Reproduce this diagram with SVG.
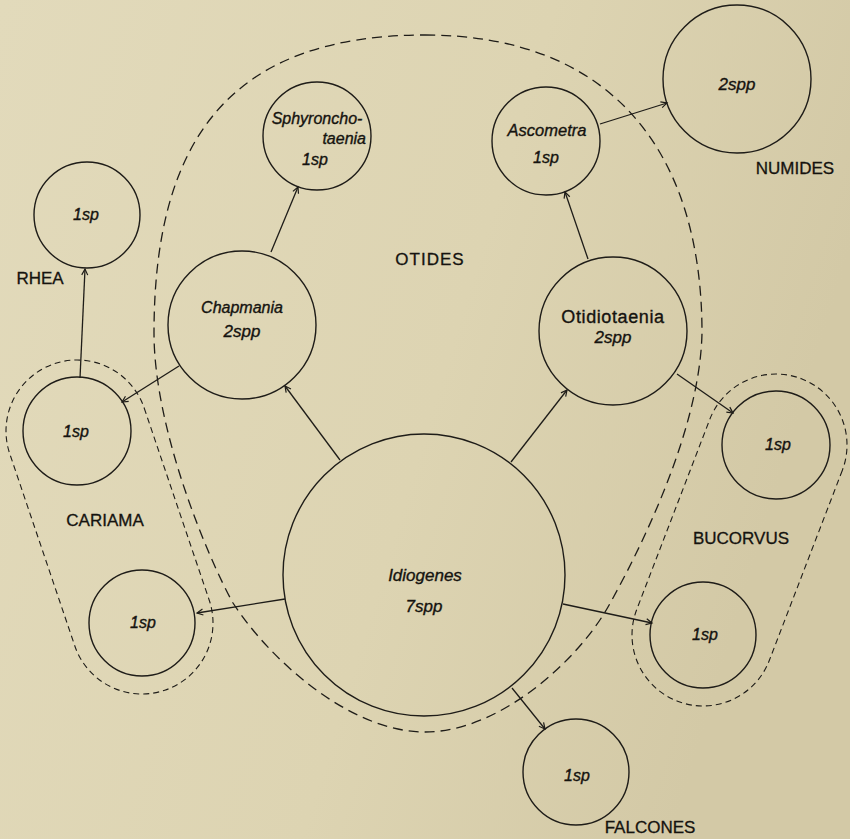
<svg xmlns="http://www.w3.org/2000/svg" width="850" height="839" viewBox="0 0 850 839">
<defs>
<linearGradient id="bg" x1="0" y1="0" x2="1" y2="0.3">
<stop offset="0" stop-color="#e2dabb"/>
<stop offset="0.6" stop-color="#ddd4b2"/>
<stop offset="1" stop-color="#d3c9a6"/>
</linearGradient>
<marker id="arr" viewBox="-8 -5 10 10" refX="0" refY="0" markerWidth="10" markerHeight="10" markerUnits="userSpaceOnUse" orient="auto">
<path d="M-6,-3 L0,0 L-6,3" fill="none" stroke="#1e1c18" stroke-width="1.2"/>
</marker>
</defs>
<style>
.node{fill:none;stroke:#1e1c18;stroke-width:1.4}
.edge{stroke:#1e1c18;stroke-width:1.3;fill:none;marker-end:url(#arr)}
.big{fill:none;stroke:#1e1c18;stroke-width:1.3;stroke-dasharray:10 6}
.small{fill:none;stroke:#1e1c18;stroke-width:1.1;stroke-dasharray:6 4}
.sp{font-family:"Liberation Sans",Arial,sans-serif;font-style:italic;font-size:16px;fill:#15130f;stroke:#15130f;stroke-width:0.35px;text-anchor:middle}
.sp17{font-size:17px}
.up{font-style:normal;font-size:18px;letter-spacing:0.6px}
.end{text-anchor:end}
.lab{font-family:"Liberation Sans",Arial,sans-serif;font-size:17px;fill:#15130f;stroke:#15130f;stroke-width:0.3px;text-anchor:middle}
</style>
<rect x="0" y="0" width="850" height="839" fill="url(#bg)"/>

<g id="group-otides">
<path class="big" d="M425,35 C610,35 702,150 702,333 C700,430 640,550 608,607 C578,660 500,732 425,732 C350,732 270,660 233,603 C208,558 154,430 154,333 C154,140 230,35 425,35 Z"/>
<text class="lab" x="430" y="265" style="letter-spacing:1px">OTIDES</text>
</g>
<g id="group-cariama">
<path class="small" d="M144.25,408.23 L209.25,600.23 A71,71 0 0 1 74.75,645.77 L9.75,453.77 A71,71 0 0 1 144.25,408.23 Z"/>
<text class="lab" x="105" y="526">CARIAMA</text>
</g>
<g id="group-bucorvus">
<path class="small" d="M842.29,470.47 L769.29,660.47 A71,71 0 0 1 636.71,609.53 L709.71,419.53 A71,71 0 0 1 842.29,470.47 Z"/>
<text class="lab" x="741" y="544">BUCORVUS</text>
</g>
<text class="lab" x="40" y="284" id="label-rhea">RHEA</text>
<text class="lab" x="795" y="174" id="label-numides">NUMIDES</text>
<text class="lab" x="650" y="833" id="label-falcones">FALCONES</text>

<g id="connectors">
<line class="edge" x1="340" y1="460" x2="285" y2="386"/>
<line class="edge" x1="511" y1="462" x2="567" y2="390"/>
<line class="edge" x1="271" y1="252" x2="298" y2="187"/>
<line class="edge" x1="588" y1="259" x2="565" y2="192"/>
<line class="edge" x1="600" y1="124" x2="667" y2="103"/>
<line class="edge" x1="80" y1="378" x2="85" y2="269"/>
<line class="edge" x1="179" y1="366" x2="122" y2="402"/>
<line class="edge" x1="677" y1="374" x2="733" y2="413"/>
<line class="edge" x1="285" y1="599" x2="197" y2="613"/>
<line class="edge" x1="563" y1="604" x2="652" y2="623"/>
<line class="edge" x1="512" y1="688" x2="545" y2="729"/>
</g>

<g id="idiogenes">
<circle class="node" cx="424" cy="575" r="141"/>
<text class="sp sp17" x="425" y="581">Idiogenes</text>
<text class="sp sp17" x="424" y="612">7spp</text>
</g>
<g id="chapmania">
<circle class="node" cx="242" cy="325" r="74"/>
<text class="sp" x="242" y="313">Chapmania</text>
<text class="sp sp17" x="242" y="337">2spp</text>
</g>
<g id="otidiotaenia">
<circle class="node" cx="613" cy="331" r="74"/>
<text class="sp up" x="613" y="323">Otidiotaenia</text>
<text class="sp sp17" x="613" y="343">2spp</text>
</g>
<g id="sphyronchotaenia">
<circle class="node" cx="317" cy="136" r="54"/>
<text class="sp" x="317" y="124">Sphyroncho-</text>
<text class="sp end" x="366" y="144">taenia</text>
<text class="sp" x="315" y="165">1sp</text>
</g>
<g id="ascometra">
<circle class="node" cx="546" cy="141" r="54"/>
<text class="sp" x="547" y="136" style="font-size:16.5px">Ascometra</text>
<text class="sp" x="546" y="163">1sp</text>
</g>
<g id="numides">
<circle class="node" cx="737" cy="79" r="74"/>
<text class="sp sp17" x="737" y="90">2spp</text>
</g>
<g id="rhea">
<circle class="node" cx="87" cy="215" r="53"/>
<text class="sp" x="86" y="220">1sp</text>
</g>
<g id="cariama-1">
<circle class="node" cx="77" cy="431" r="54"/>
<text class="sp" x="76" y="437">1sp</text>
</g>
<g id="cariama-2">
<circle class="node" cx="142" cy="623" r="53"/>
<text class="sp" x="143" y="628">1sp</text>
</g>
<g id="bucorvus-1">
<circle class="node" cx="776" cy="445" r="54"/>
<text class="sp" x="778" y="450">1sp</text>
</g>
<g id="bucorvus-2">
<circle class="node" cx="703" cy="635" r="53"/>
<text class="sp" x="705" y="640">1sp</text>
</g>
<g id="falcones">
<circle class="node" cx="576" cy="772" r="53"/>
<text class="sp" x="577" y="781">1sp</text>
</g>
</svg>
